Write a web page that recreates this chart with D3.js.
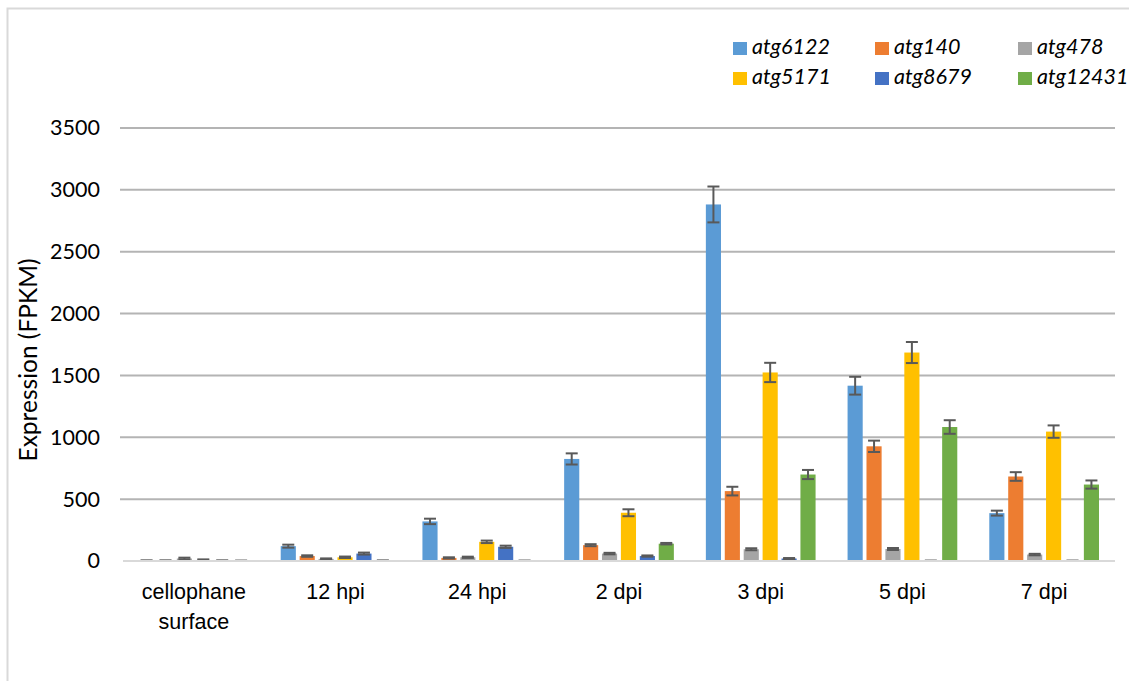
<!DOCTYPE html>
<html>
<head>
<meta charset="utf-8">
<script src="https://cdn.jsdelivr.net/npm/d3@7"></script>
<style>
  body { margin: 0; background: #fff; }
  svg { display: block; font-family: Lato, "Open Sans", sans-serif; }
</style>
</head>
<body>
<svg id="chart"></svg>
<script>
// Categories and series (FPKM values with standard error)
const categories = ["cellophane surface", "12 hpi", "24 hpi", "2 dpi", "3 dpi", "5 dpi", "7 dpi"];
const seriesNames = ["atg6122", "atg140", "atg478", "atg5171", "atg8679", "atg12431"];
const seriesColors = ["#5B9BD5", "#ED7D31", "#A5A5A5", "#FFC000", "#4472C4", "#70AD47"];

const atg6122 = [3, 120, 320, 825, 2882, 1417, 387];
const atg6122Err = [2, 12, 22, 45, 145, 72, 20];
const atg140 = [3, 40, 25, 128, 565, 927, 683];
const atg140Err = [2, 6, 5, 8, 35, 46, 35];
const atg478 = [20, 17, 30, 60, 95, 97, 52];
const atg478Err = [7, 4, 5, 6, 8, 8, 6];
const atg5171 = [8, 30, 155, 390, 1524, 1685, 1046];
const atg5171Err = [5, 6, 10, 28, 78, 85, 50];
const atg8679 = [3, 60, 115, 40, 20, 2, 2];
const atg8679Err = [2, 8, 9, 5, 4, 1, 1];
const atg12431 = [2, 3, 2, 140, 699, 1083, 618];
const atg12431Err = [1, 1, 1, 6, 37, 55, 33];

const yTicks = [0, 500, 1000, 1500, 2000, 2500, 3000, 3500];

const values = [atg6122, atg140, atg478, atg5171, atg8679, atg12431];
const errors = [atg6122Err, atg140Err, atg478Err, atg5171Err, atg8679Err, atg12431Err];

// flatten into records for binding
const records = [];
categories.forEach((c, ci) => {
  seriesNames.forEach((s, si) => {
    records.push({ cat: c, series: s, value: values[si][ci], err: errors[si][ci], color: seriesColors[si] });
  });
});

const width = 1129, height = 681;
const plot = { left: 123, right: 1115, top: 128, bottom: 561 };

const svg = d3.select("#chart").attr("width", width).attr("height", height);

// outer frame
svg.append("rect")
  .attr("x", 7.5).attr("y", 8.5)
  .attr("width", 1200).attr("height", 700)
  .attr("fill", "#fff").attr("stroke", "#d9d9d9").attr("stroke-width", 2);

const x0 = d3.scaleBand().domain(categories).range([plot.left, plot.right]).padding(0);
const groupPad = 16;
const x1 = d3.scaleBand().domain(seriesNames)
  .range([groupPad, x0.bandwidth() - groupPad]).paddingInner(0.2).paddingOuter(0);
const y = d3.scaleLinear().domain([0, 3500]).range([plot.bottom, plot.top]);

// gridlines
svg.append("g")
  .selectAll("line")
  .data(yTicks.filter(d => d > 0))
  .join("line")
  .attr("x1", plot.left - 3).attr("x2", plot.right)
  .attr("y1", d => y(d)).attr("y2", d => y(d))
  .attr("stroke", "#b4b4b4").attr("stroke-width", 2);

// y axis labels
const yAxis = svg.append("g")
  .attr("transform", `translate(${plot.left - 23},0)`)
  .call(d3.axisLeft(y).tickValues(yTicks).tickFormat(d3.format("d")).tickSize(0).tickPadding(0));
yAxis.select(".domain").remove();
yAxis.selectAll("text")
  .attr("font-size", 21.5).attr("fill", "#000")
  .attr("font-family", "Lato, 'Open Sans', sans-serif");

// y axis title
svg.append("text")
  .attr("transform", "translate(37,360) rotate(-90)")
  .attr("text-anchor", "middle")
  .attr("font-size", 24.5)
  .text("Expression (FPKM)");

// bars
const groups = svg.append("g")
  .selectAll("g")
  .data(categories)
  .join("g")
  .attr("transform", d => `translate(${x0(d)},0)`);

groups.selectAll("rect")
  .data(c => records.filter(r => r.cat === c))
  .join("rect")
  .attr("x", d => x1(d.series))
  .attr("y", d => y(d.value))
  .attr("width", x1.bandwidth())
  .attr("height", d => y(0) - y(d.value))
  .attr("fill", d => d.color);

// baseline
svg.append("line")
  .attr("x1", plot.left).attr("x2", plot.right)
  .attr("y1", y(0)).attr("y2", y(0))
  .attr("stroke", "#d9d9d9").attr("stroke-width", 2);

// error bars
const capHalf = 6;
const eb = groups.selectAll("g.err")
  .data(c => records.filter(r => r.cat === c))
  .join("g")
  .attr("class", "err")
  .attr("stroke", "#595959")
  .attr("stroke-width", 2);

eb.append("line")
  .attr("x1", d => x1(d.series) + x1.bandwidth() / 2)
  .attr("x2", d => x1(d.series) + x1.bandwidth() / 2)
  .attr("y1", d => y(d.value + d.err))
  .attr("y2", d => y(Math.max(0, d.value - d.err)));
eb.append("line")
  .attr("x1", d => x1(d.series) + x1.bandwidth() / 2 - capHalf)
  .attr("x2", d => x1(d.series) + x1.bandwidth() / 2 + capHalf)
  .attr("y1", d => y(d.value + d.err))
  .attr("y2", d => y(d.value + d.err));
eb.append("line")
  .attr("x1", d => x1(d.series) + x1.bandwidth() / 2 - capHalf)
  .attr("x2", d => x1(d.series) + x1.bandwidth() / 2 + capHalf)
  .attr("y1", d => y(Math.max(0, d.value - d.err)))
  .attr("y2", d => y(Math.max(0, d.value - d.err)));

// x axis labels
const xAxis = svg.append("g")
  .attr("transform", `translate(0,${plot.bottom})`)
  .call(d3.axisBottom(x0).tickSize(0).tickPadding(0));
xAxis.select(".domain").remove();
xAxis.selectAll("text").remove();
xAxis.selectAll(".tick").each(function (d) {
  const words = d === "cellophane surface" ? ["cellophane", "surface"] : [d];
  const t = d3.select(this).append("text")
    .attr("text-anchor", "middle")
    .attr("font-size", 21.5)
    .attr("fill", "#000");
  words.forEach((w, i) => {
    t.append("tspan").attr("x", 0).attr("y", 38 + i * 30).text(w);
  });
});

// legend
const legendCols = [733, 875, 1018];
const legendRows = [42, 72];
const legend = svg.append("g")
  .selectAll("g")
  .data(seriesNames)
  .join("g")
  .attr("transform", (d, i) => `translate(${legendCols[i % 3]},${legendRows[Math.floor(i / 3)]})`);
legend.append("rect")
  .attr("width", 14).attr("height", 13)
  .attr("fill", (d, i) => seriesColors[i]);
legend.append("text")
  .attr("x", 19).attr("y", 12)
  .attr("font-size", 21.5)
  .attr("font-style", "italic")
  .text(d => d);
</script>
</body>
</html>
